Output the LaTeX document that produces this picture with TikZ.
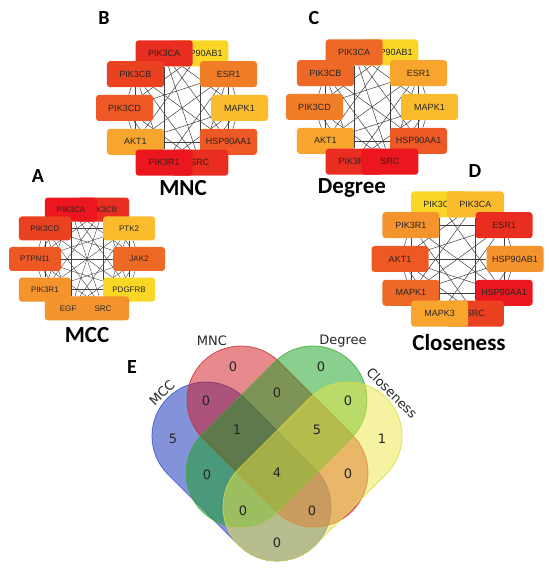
\documentclass[tikz,border=0pt]{standalone}
\usepackage{fontspec}
\newfontfamily\genefont{Liberation Sans}
\newfontfamily\titlefont{Carlito}
\newfontfamily\vennfont{DejaVu Sans}
\usetikzlibrary{backgrounds}

% heat scale of the hub nodes, red (high) to yellow (low)
\definecolor{h0}{RGB}{236,22,30}
\definecolor{h1}{RGB}{233,45,32}
\definecolor{h2}{RGB}{234,65,32}
\definecolor{h3}{RGB}{237,88,36}
\definecolor{h4}{RGB}{239,105,38}
\definecolor{h5}{RGB}{242,125,40}
\definecolor{h6}{RGB}{245,148,45}
\definecolor{h7}{RGB}{248,165,45}
\definecolor{h8}{RGB}{250,188,45}
\definecolor{h9}{RGB}{250,215,38}
% venn sets
\definecolor{mccfill}{RGB}{10,40,180}
\definecolor{mccline}{RGB}{50,80,200}
\definecolor{mncfill}{RGB}{210,20,30}
\definecolor{mncline}{RGB}{210,40,50}
\definecolor{degfill}{RGB}{20,160,30}
\definecolor{degline}{RGB}{60,170,50}
\definecolor{clofill}{RGB}{235,230,70}
\definecolor{cloline}{RGB}{220,220,60}

\tikzset{
  gene/.style={rectangle, rounded corners=3pt, inner sep=0pt,
    minimum width=57pt, minimum height=26pt, text=black!85,
    font=\genefont\fontsize{9}{10}\selectfont},
  smallgene/.style={gene, minimum width=52pt, minimum height=24pt,
    font=\genefont\fontsize{8}{9}\selectfont},
  edge/.style={draw=black!75, line width=0.5pt},
  panel/.style={font=\titlefont\bfseries\fontsize{20}{24}\selectfont},
  nettitle/.style={font=\titlefont\bfseries\fontsize{23}{27}\selectfont},
  count/.style={text=black!85, font=\vennfont\fontsize{13}{15}\selectfont},
  setname/.style={text=black!85, font=\vennfont\fontsize{13}{15}\selectfont},
  vennset/.style={fill=#1fill, draw=#1line, fill opacity=0.5,
    draw opacity=0.8, line width=0.8pt},
}

% one stadium of the venn: style, start x, start y, angle, length
\newcommand{\stadium}[5]{%
  \begin{scope}[shift={(#2,#3)}, rotate=#4]
    \filldraw[vennset=#1] (0,-54) -- (#5,-54)
      arc[start angle=-90, end angle=90, radius=54] -- (0,54)
      arc[start angle=90, end angle=270, radius=54] -- cycle;
  \end{scope}}

\begin{document}
\begin{tikzpicture}[x=1pt,y=1pt]
\useasboundingbox (0,0) rectangle (550,573);

% panel A: MCC
\begin{scope}[shift={(87,314)}]
  \node[smallgene, fill=h1] (a2) at (72:52) {PIK3CB};
  \node[smallgene, fill=h0] (a1) at (108:52) {PIK3CA};
  \node[smallgene, fill=h8] (a3) at (36:52) {PTK2};
  \node[smallgene, fill=h4] (a4) at (0:52) {JAK2};
  \node[smallgene, fill=h9] (a5) at (-36:52) {PDGFRB};
  \node[smallgene, fill=h6] (a7) at (-108:52) {EGFR};
  \node[smallgene, fill=h6] (a6) at (-72:52) {SRC};
  \node[smallgene, fill=h6] (a8) at (-144:52) {PIK3R1};
  \node[smallgene, fill=h3] (a9) at (180:52) {PTPN11};
  \node[smallgene, fill=h2] (a10) at (144:52) {PIK3CD};
\end{scope}

% panel B: MNC
\begin{scope}[shift={(182,465)}]
  \node[gene, fill=h9] (bAB1) at (72:57.5) {HSP90AB1};
  \node[gene, fill=h1] (bCA) at (108:57.5) {PIK3CA};
  \node[gene, fill=h2] (bCB) at (144:57.5) {PIK3CB};
  \node[gene, fill=h5] (bESR) at (36:57.5) {ESR1};
  \node[gene, fill=h3] (bCD) at (180:57.5) {PIK3CD};
  \node[gene, fill=h8] (bMAPK) at (0:57.5) {MAPK1};
  \node[gene, fill=h7] (bAKT) at (-144:57.5) {AKT1};
  \node[gene, fill=h3] (bAA1) at (-36:57.5) {HSP90AA1};
  \node[gene, fill=h1] (bSRC) at (-72:57.5) {SRC};
  \node[gene, fill=h0] (bR1) at (-108:57.5) {PIK3R1};
\end{scope}

% panel C: Degree
\begin{scope}[shift={(372,466)}]
  \node[gene, fill=h9] (cAB1) at (72:57.5) {HSP90AB1};
  \node[gene, fill=h4] (cCA) at (108:57.5) {PIK3CA};
  \node[gene, fill=h4] (cCB) at (144:57.5) {PIK3CB};
  \node[gene, fill=h7] (cESR) at (36:57.5) {ESR1};
  \node[gene, fill=h5] (cCD) at (180:57.5) {PIK3CD};
  \node[gene, fill=h8] (cMAPK) at (0:57.5) {MAPK1};
  \node[gene, fill=h7] (cAKT) at (-144:57.5) {AKT1};
  \node[gene, fill=h3] (cAA1) at (-36:57.5) {HSP90AA1};
  \node[gene, fill=h1] (cR1) at (-108:57.5) {PIK3R1};
  \node[gene, fill=h0] (cSRC) at (-72:57.5) {SRC};
\end{scope}

% panel D: Closeness
\begin{scope}[shift={(457.5,314)}]
  \node[gene, fill=h9] (dCD) at (108:57.5) {PIK3CD};
  \node[gene, fill=h8] (dCA) at (72:57.5) {PIK3CA};
  \node[gene, fill=h6] (dR1) at (144:57.5) {PIK3R1};
  \node[gene, fill=h1] (dESR) at (36:57.5) {ESR1};
  \node[gene, fill=h3] (dAKT) at (180:57.5) {AKT1};
  \node[gene, fill=h6] (dAB1) at (0:57.5) {HSP90AB1};
  \node[gene, fill=h4] (dM1) at (-144:57.5) {MAPK1};
  \node[gene, fill=h0] (dAA1) at (-36:57.5) {HSP90AA1};
  \node[gene, fill=h2] (dSRC) at (-72:57.5) {SRC};
  \node[gene, fill=h7] (dM3) at (-108:57.5) {MAPK3};
\end{scope}

\begin{pgfonlayer}{background}
  % MCC cluster is complete
  \foreach \i in {1,...,9} {
    \pgfmathtruncatemacro\nxt{\i+1}
    \foreach \j in {\nxt,...,10}
      \draw[edge, line width=0.4pt] (a\i) -- (a\j);
  }
  % MNC and Degree share the same hubs
  \foreach \p in {b,c} {
    \foreach \u/\v in {CA/R1, AB1/SRC, AKT/AA1, CA/SRC, CA/AA1, CA/MAPK,
        CB/SRC, CB/AA1, AB1/AKT, AB1/CD, ESR/AKT, ESR/CD, ESR/R1,
        MAPK/AKT, MAPK/R1, CB/CD, CB/AKT, CD/AKT, CD/R1, CB/R1,
        ESR/MAPK, ESR/AA1, MAPK/AA1, MAPK/SRC, ESR/SRC, AKT/R1,
        AA1/SRC, CD/SRC}
      \draw[edge] (\p\u) -- (\p\v);
  }
  \foreach \u/\v in {CD/M3, CA/SRC, R1/ESR, AKT/AB1, M1/AA1, CA/AKT,
      CA/M1, R1/AA1, R1/SRC, ESR/AKT, ESR/M1, ESR/M3, AKT/AA1,
      AKT/SRC, AB1/M1, CD/AA1, R1/AKT, R1/M1, AKT/M1, AKT/M3,
      ESR/AB1, ESR/AA1, AB1/AA1, AB1/SRC, AA1/SRC, CA/R1}
    \draw[edge] (d\u) -- (d\v);
\end{pgfonlayer}

% panel letters and titles
\node[panel] (labA) at (38,397) {A};
\node[panel] (labB) at (104,555) {B};
\node[panel] (labC) at (314,555) {C};
\node[panel] (labD) at (475,402) {D};
\node[panel] (labE) at (132,206) {E};
\node[nettitle] (tMCC) at (87,238) {MCC};
\node[nettitle] (tMNC) at (183,385) {MNC};
\node[nettitle] (tDeg) at (352,385) {Degree};
\node[nettitle] (tClo) at (459,230) {Closeness};

% panel E: venn of the four top-10 lists
\stadium{mcc}{206}{137}{-45}{100.4}
\stadium{mnc}{241}{173}{-45}{103.2}
\stadium{deg}{313}{173}{-135}{103.2}
\stadium{clo}{348}{137}{-135}{100.4}

\node[setname, rotate=45] (sMCC) at (162,180) {MCC};
\node[setname] (sMNC) at (212,232) {MNC};
\node[setname] (sDeg) at (343,232) {Degree};
\node[setname, rotate=-45] (sClo) at (392,180) {Closeness};

\foreach \x/\y/\n [count=\k] in {233/206/0, 321/206/0, 206/172/0,
    277/180/0, 348/172/0, 173/134/5, 237/143/1, 317/143/5, 382/134/1,
    207/98/0, 277/100/4, 348/99/0, 243/62/0, 312/62/0, 277/30/0}
  \node[count] (cnt\k) at (\x,\y) {\n};
\end{tikzpicture}
\end{document}
